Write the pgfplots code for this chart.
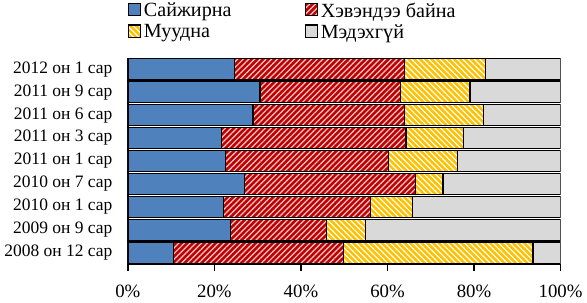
\documentclass[border=0pt]{standalone}
\usepackage{fontspec}
\setmainfont{Liberation Serif}
\newfontfamily\tnr{Liberation Serif}
\usepackage{pgfplots}
\pgfplotsset{compat=1.18}
\usetikzlibrary{patterns.meta}
\definecolor{cblue}{HTML}{4F81BD}
\definecolor{cred}{HTML}{C00000}
\definecolor{cyel}{HTML}{FFC000}
\definecolor{cgray}{HTML}{D9D9D9}
\begin{document}
\tnr
\begin{tikzpicture}[font=\tnr]
\begin{axis}[
  scale only axis,
  width=322.5pt, height=154pt,
  xbar stacked,
  bar width=0.93,
  xmin=0, xmax=100,
  ymin=-0.5, ymax=8.5,
  axis x line*=bottom, axis y line*=left,
  axis line style={line width=1pt},
  xtick={0,20,...,100},
  xticklabel={\pgfmathprintnumber{\tick}\%},
  tick align=outside,
  major tick length=5pt,
  minor tick length=5pt,
  tick style={line width=1pt, black},
  ytick={0,...,8},
  yticklabels={2008 он 12 сар,2009 он 9 сар,2010 он 1 сар,2010 он 7 сар,2011 он 1 сар,2011 он 3 сар,2011 он 6 сар,2011 он 9 сар,2012 он 1 сар},
  y tick label style={font=\tnr\fontsize{13}{15}\selectfont, xshift=-3pt},
  x tick label style={font=\tnr\fontsize{14}{16}\selectfont, yshift=-7pt},
  ytick style={draw=none},
  minor ytick={-0.5,0.5,...,8.5},
  minor y tick style={line width=1pt, black},
  /pgf/number format/assume math mode=true,
  legend columns=2,
  legend cell align=left,
  legend style={at={(0,1.07)}, anchor=south west, draw=none, fill=none,
    font=\tnr\fontsize{15}{17}\selectfont, inner sep=0pt, row sep=0pt},
  legend image code/.code={\draw[#1, line width=0.8pt] (0pt,-3.5pt) rectangle (9pt,5.5pt);},
]
\addplot+[fill=cblue, draw=black, line width=1pt] coordinates {
 (10.6,0) (23.7,1) (22.1,2) (26.9,3) (22.5,4) (21.6,5) (28.9,6) (30.5,7) (24.7,8)};
\addlegendentry{\makebox[118pt][l]{Сайжирна}}
\addplot+[fill=cred, draw=black, line width=1pt, postaction={pattern={Lines[angle=45,distance=3pt,line width=0.9pt]}, pattern color=white!80!cred}] coordinates {
 (39.3,0) (22.2,1) (33.9,2) (39.6,3) (37.8,4) (42.7,5) (35.0,6) (32.5,7) (39.3,8)};
\addlegendentry{Хэвэндээ байна}
\addplot+[fill=cyel, draw=black, line width=1pt, postaction={pattern={Lines[angle=-45,distance=3pt,line width=0.9pt]}, pattern color=white}] coordinates {
 (43.7,0) (9.0,1) (9.7,2) (6.3,3) (15.9,4) (13.2,5) (18.3,6) (16.1,7) (18.6,8)};
\addlegendentry{\makebox[118pt][l]{Муудна}}
\addplot+[fill=cgray, draw=black, line width=1pt] coordinates {
 (6.4,0) (45.1,1) (34.3,2) (27.2,3) (23.8,4) (22.5,5) (17.8,6) (20.9,7) (17.4,8)};
\addlegendentry{Мэдэхгүй}
\end{axis}
\end{tikzpicture}
\end{document}
